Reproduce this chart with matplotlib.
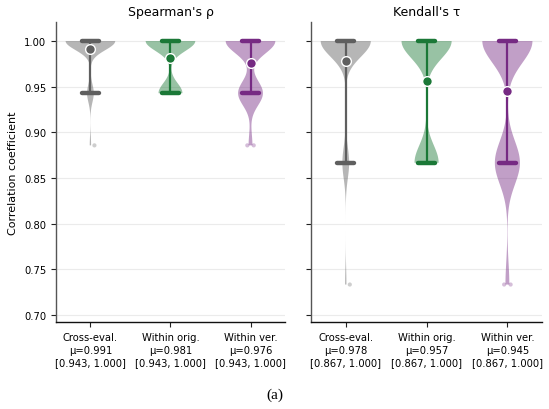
import numpy as np
import matplotlib
matplotlib.use("Agg")
import matplotlib.pyplot as plt

# ---------------- data ----------------
groups = ["Cross-eval.", "Within orig.", "Within ver."]
panel_titles = ["Spearman's ρ", "Kendall's τ"]

# discrete correlation values that occur (n = 6 ranked items)
spearman_levels = [1.0, 0.942857, 0.885714]
kendall_levels = [1.0, 0.866667, 0.733333]

# counts of each level per group  (perfect, one swap, two swaps)
counts_cross = [37, 5, 1]
counts_orig = [27, 13, 0]
counts_ver = [26, 13, 2]

line_colors = ["#5f5f5f", "#1b7837", "#762a83"]
body_alpha = 0.45
panel_bw = [0.4, 0.3]
outlier_jitter = {1: [0.05], 2: [-0.04, 0.04]}


def make_samples(levels, counts):
    return np.repeat(np.array(levels), np.array(counts))


panel_data = [
    [make_samples(spearman_levels, c) for c in (counts_cross, counts_orig, counts_ver)],
    [make_samples(kendall_levels, c) for c in (counts_cross, counts_orig, counts_ver)],
]

# ---------------- figure ----------------
plt.rcParams["font.family"] = ["DejaVu Sans"]
fig = plt.figure(figsize=(5.49, 4.10), dpi=100)
ax_l = fig.add_axes([0.102, 0.2122, 0.417, 0.7317])
ax_r = fig.add_axes([0.5665, 0.2122, 0.4210, 0.7317], sharey=ax_l)
axes = [ax_l, ax_r]

positions = np.arange(len(groups))

for pi, (ax, data) in enumerate(zip(axes, panel_data)):
    labels = []
    vp = ax.violinplot(data, positions=positions, widths=0.62,
                       showextrema=False, showmeans=False, points=400,
                       bw_method=panel_bw[pi])
    for body, col in zip(vp["bodies"], line_colors):
        body.set_facecolor(col)
        body.set_edgecolor("none")
        body.set_alpha(body_alpha)
        body.set_zorder(1)
    for x, d, col, name in zip(positions, data, line_colors, groups):
        lo, hi = np.percentile(d, [5, 95])
        mu = d.mean()
        ax.plot([x, x], [lo, hi], color=col, lw=1.6, zorder=3)
        for v in (lo, hi):
            ax.plot([x - 0.105, x + 0.105], [v, v], color=col, lw=3.2,
                    solid_capstyle="round", zorder=4)
        ax.plot([x], [mu], marker="o", ms=7, color=col, mec="white",
                mew=1.0, zorder=5)
        out = d[(d < lo) | (d > hi)]
        if len(out):
            jit = outlier_jitter.get(len(out), np.zeros(len(out)))
            ax.scatter(x + np.array(jit), out, s=9, color=col, alpha=0.3,
                       edgecolors="none", zorder=2)
        labels.append(f"{name}\nμ={mu:.3f}\n[{lo:.3f}, {hi:.3f}]")

    ax.set_xticks(positions)
    ax.set_xticklabels(labels, fontsize=7.2, linespacing=1.35)
    ax.set_xlim(-0.43, 2.43)
    ax.set_title(panel_titles[pi], fontsize=9, pad=5)
    ax.yaxis.grid(True, color="#ebebeb", lw=0.8, zorder=0)
    ax.set_axisbelow(True)
    for s in ("top", "right"):
        ax.spines[s].set_visible(False)
    ax.spines["left"].set_color("#555555")
    ax.spines["left"].set_linewidth(1.0)
    ax.spines["bottom"].set_color("#111111")
    ax.spines["bottom"].set_linewidth(1.0)
    ax.tick_params(axis="both", labelsize=7.2, length=3.5, width=0.8,
                   color="#222222")

ax_l.set_ylim(0.6923, 1.0208)
ax_l.set_yticks(np.arange(0.70, 1.001, 0.05))
ax_l.yaxis.set_major_formatter(matplotlib.ticker.FormatStrFormatter("%.2f"))
ax_l.set_ylabel("Correlation coefficient", fontsize=8)
plt.setp(ax_r.get_yticklabels(), visible=False)

fig.text(0.5, 0.037, "(a)", ha="center", va="center", fontsize=11,
         family="Liberation Serif")

fig.savefig("out.png", dpi=100)
